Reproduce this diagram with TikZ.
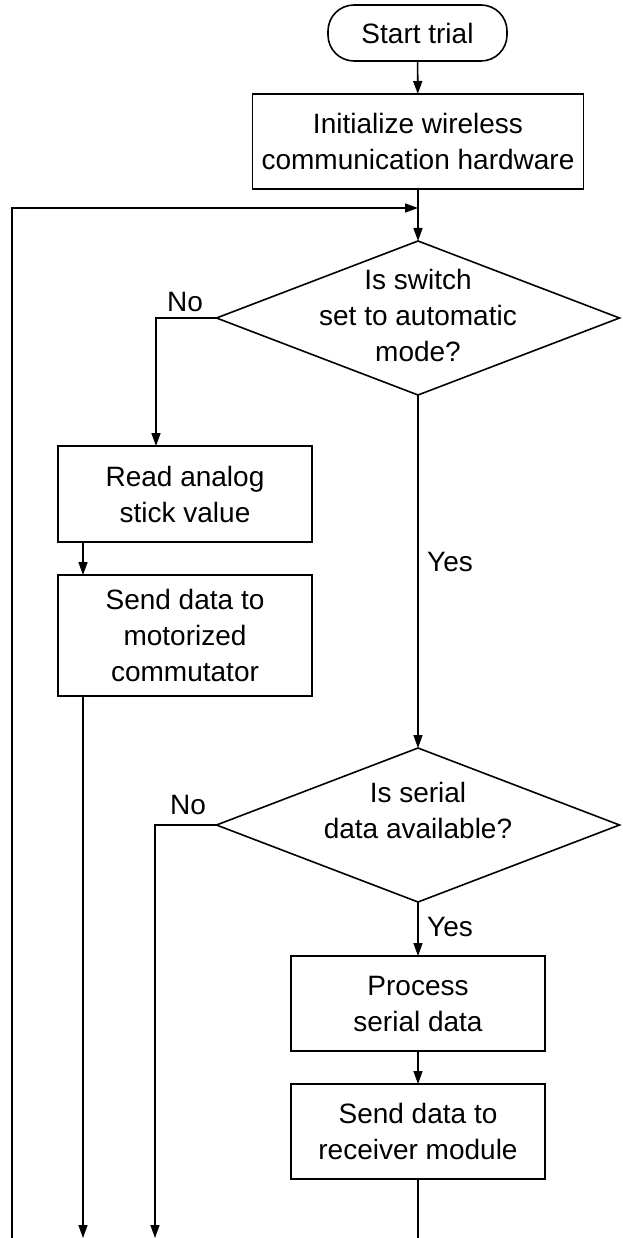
\documentclass[tikz,border=0pt]{standalone}
\usepackage{fontspec}
\setmainfont{Liberation Sans}
\usetikzlibrary{shapes.geometric,arrows.meta,positioning}

\tikzset{
  block/.style={draw, line width=1.6pt, minimum width=254pt, minimum height=95pt,
    inner sep=0pt, outer sep=0pt, align=center},
  terminal/.style={block, rounded corners=26pt, minimum width=179pt, minimum height=56pt},
  decision/.style={draw, diamond, line width=1.6pt, minimum width=403pt,
    minimum height=154pt, inner sep=0pt, outer sep=0pt},
  arr/.style={line width=1.6pt, -{Triangle[length=13pt,width=9pt]}},
  conn/.style={line width=1.6pt},
  answer/.style={inner sep=0pt}
}

\begin{document}
\begin{tikzpicture}[x=1pt,y=-1pt,font=\fontsize{28}{36}\selectfont]
\useasboundingbox (0,0) rectangle (622,1238);

% blocks
\node[terminal] (start) at (417.5,33) {Start trial};
\node[block, minimum width=331pt] (init) at (418,141.5) {Initialize wireless\\communication hardware};
\node[decision, label={[align=center,yshift=3pt]center:Is switch\\set to automatic\\mode?}] (mode) at (418,318) {};
\node[block, minimum height=96pt] (read) at (185,494) {Read analog\\stick value};
\node[block, minimum height=121pt] (sendm) at (185,635.5) {Send data to\\motorized\\commutator};
\node[decision, label={[align=center,yshift=15pt]center:Is serial\\data available?}] (serial) at (418,825) {};
\node[block] (proc) at (418,1003.5) {Process\\serial data};
\node[block] (sendr) at (418,1131.5) {Send data to\\receiver module};

% answers
\node[answer] (no1) at (185,302) {No};
\node[answer] (yes1) at (450,562) {Yes};
\node[answer] (no2) at (188,805) {No};
\node[answer] (yes2) at (450,927) {Yes};

% free ends
\coordinate (merge) at (418,208);
\coordinate (lcol) at (83,0);
\coordinate (rcol) at (156,0);
\coordinate (out1) at (83,1238);
\coordinate (out2) at (155,1238);
\coordinate (out3) at (418,1238);
\coordinate (back) at (12,1238);

% connectors
\draw[arr] (start) -- (init);
\draw[arr] (init) -- (mode);
\draw[arr] (back) |- (merge);
\draw[arr] (mode.west) -| (read.north -| rcol);
\draw[arr] (read.south -| lcol) -- (sendm.north -| lcol);
\draw[arr] (sendm.south -| lcol) -- (out1);
\draw[arr] (mode) -- (serial);
\draw[arr] (serial.west) -| (out2);
\draw[arr] (serial) -- (proc);
\draw[arr] (proc) -- (sendr);
\draw[conn] (sendr) -- (out3);
\end{tikzpicture}
\end{document}
